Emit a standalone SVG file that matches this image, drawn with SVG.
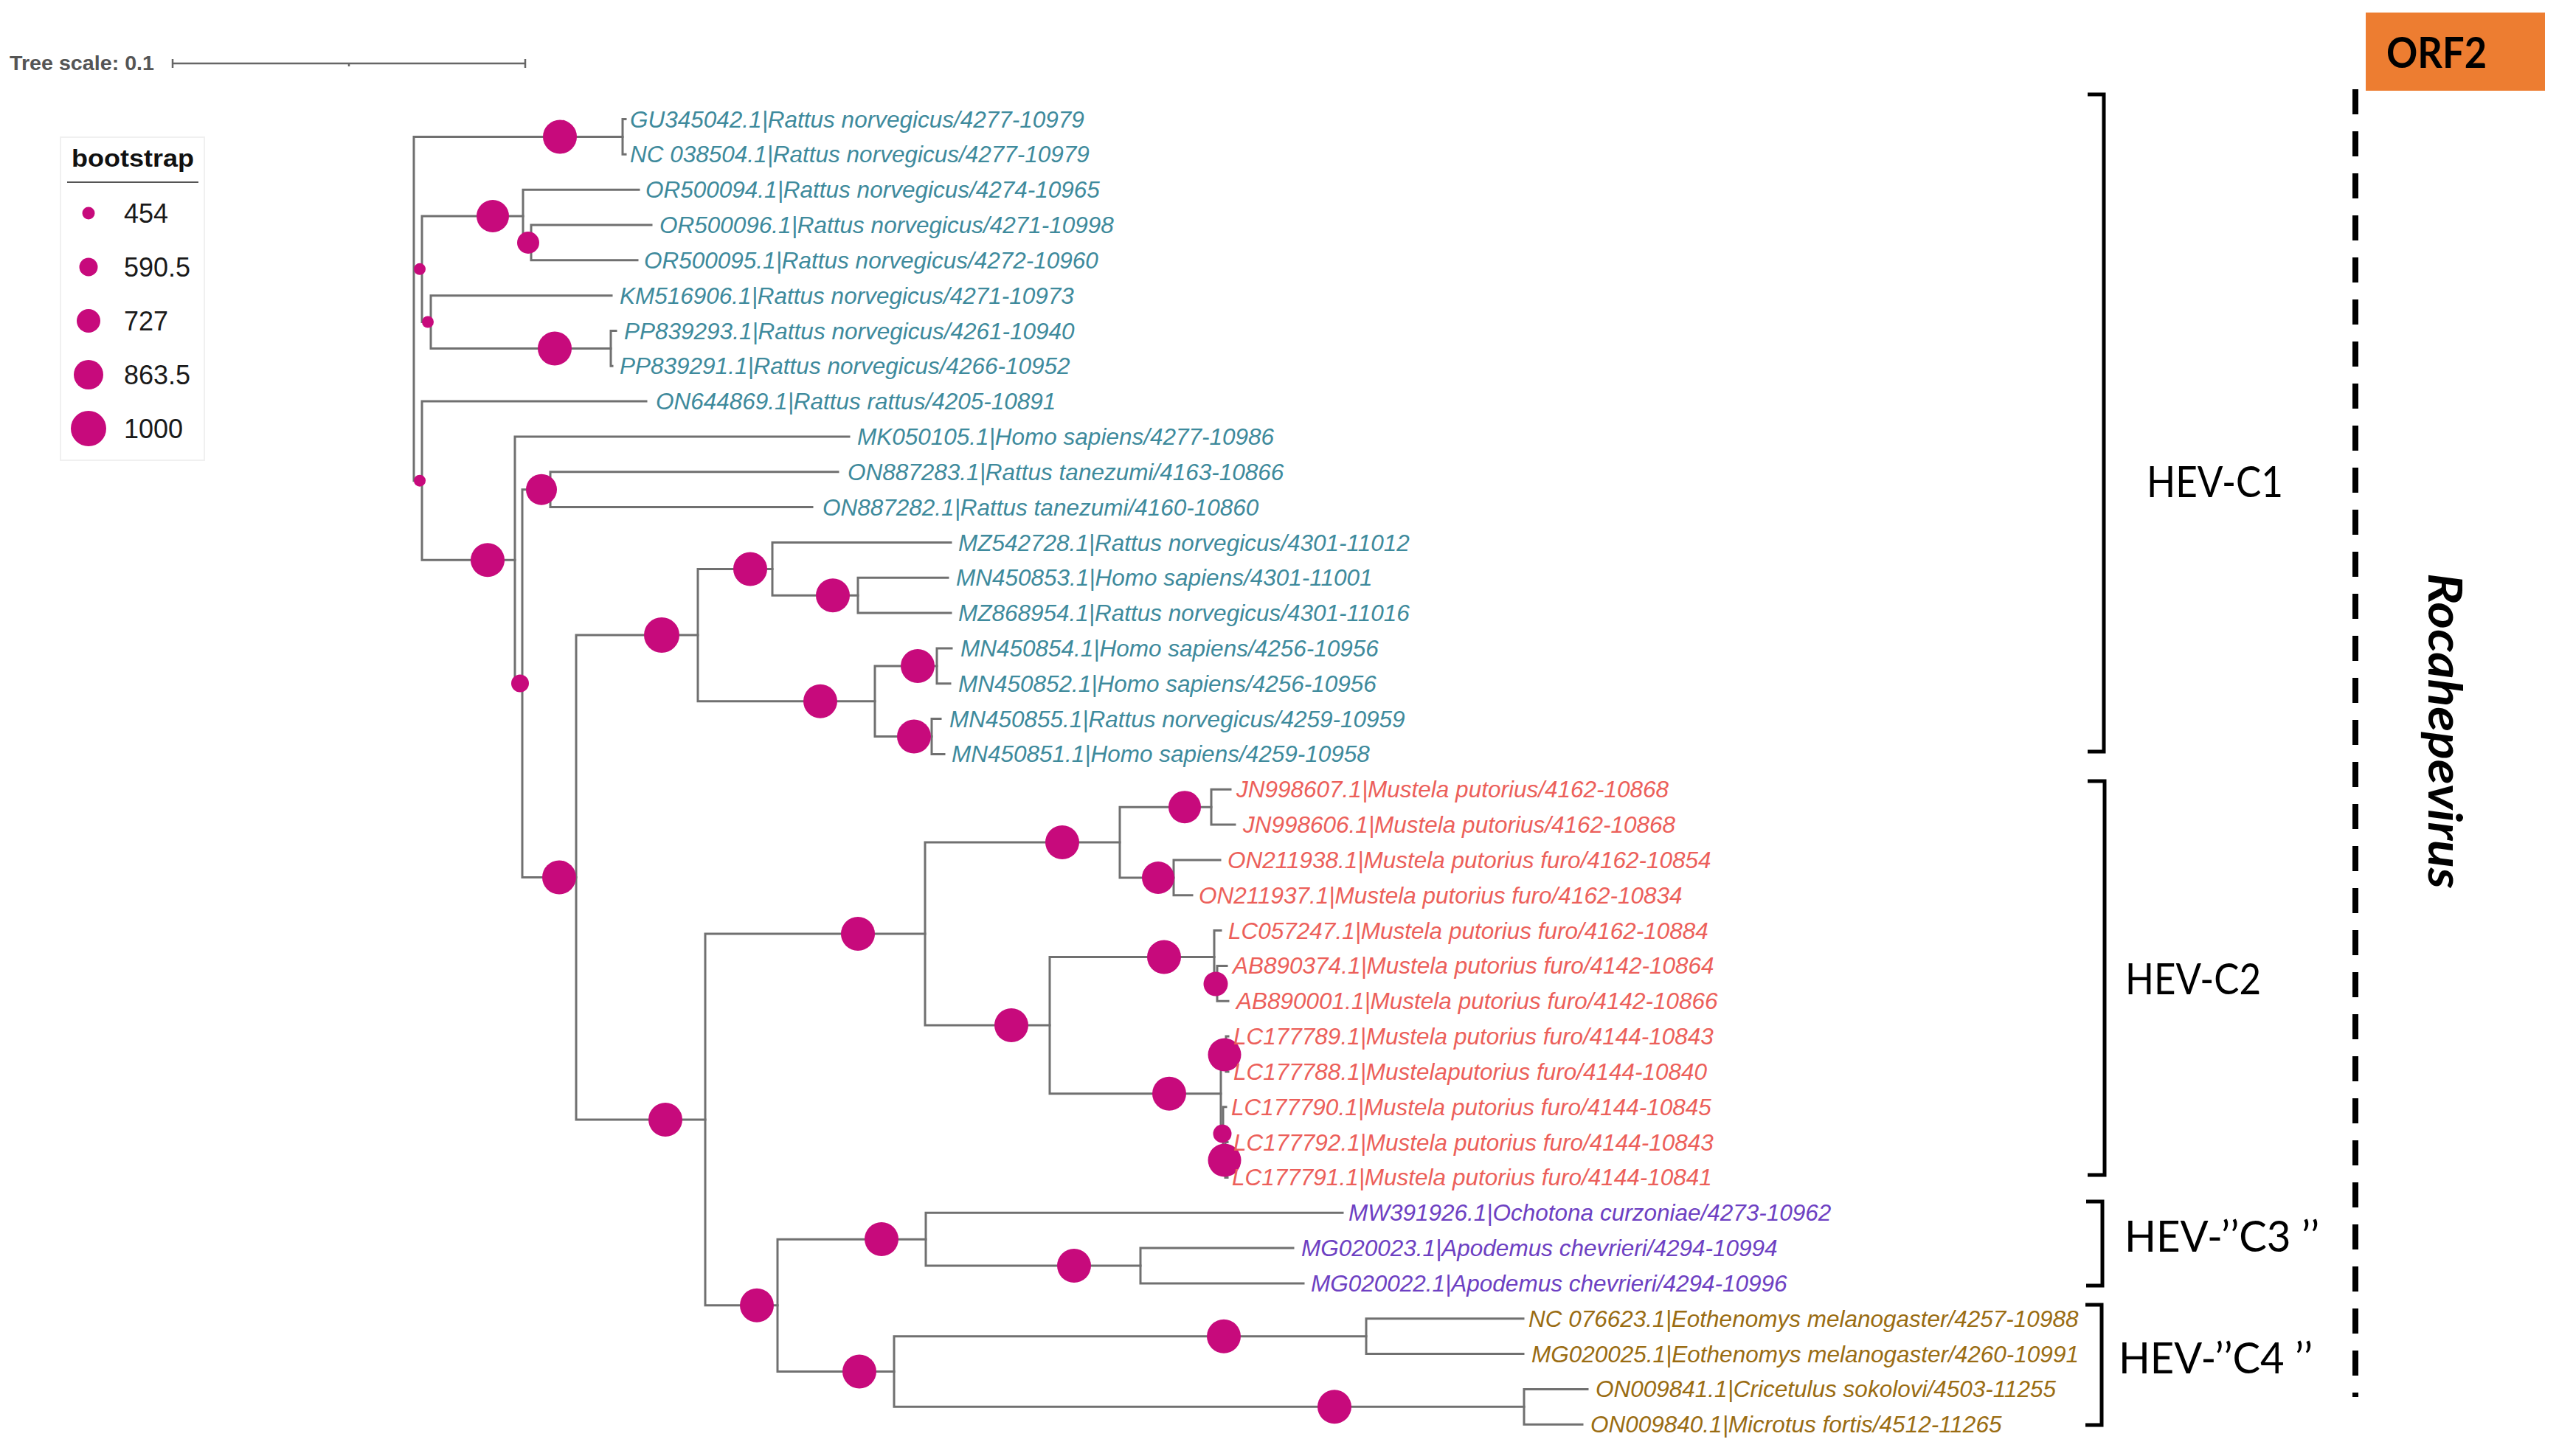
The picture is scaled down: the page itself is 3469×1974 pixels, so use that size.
<svg xmlns="http://www.w3.org/2000/svg" width="3469" height="1974" viewBox="0 0 3469 1974">
<style>
.br{fill:none;stroke:#707070;stroke-width:3;stroke-linecap:square}
.bs{fill:#c70a7c}
.lb{font-family:"Liberation Sans",Arial,sans-serif;font-style:italic;font-size:31.5px}
.c1{fill:#3e8a9c}.c2{fill:#ec5f5a}.c3{fill:#6d40c2}.c4{fill:#9a6c12}
.clade{font-family:Lato,"Open Sans",sans-serif;font-size:58px;fill:#000}
.bk{fill:none;stroke:#000;stroke-width:5}
.lg{font-family:"Liberation Sans",Arial,sans-serif;font-size:36px;fill:#1a1a1a}
</style>
<rect width="3469" height="1974" fill="#fff"/>
<g id="tree-scale">
<text x="13" y="95" font-family="Liberation Sans,Arial,sans-serif" font-weight="bold" font-size="27" fill="#555" textLength="196" lengthAdjust="spacingAndGlyphs">Tree scale: 0.1</text>
<path d="M234,86 H712 M234,80 V92 M712,80 V92 M473,86 V90" fill="none" stroke="#666" stroke-width="2.5"/>
</g>
<g id="legend">
<rect x="82" y="186" width="195" height="438" fill="#fff" stroke="#f0f0f0" stroke-width="2"/>
<text x="97" y="226" font-family="Liberation Sans,Arial,sans-serif" font-weight="bold" font-size="34" fill="#111" textLength="166" lengthAdjust="spacingAndGlyphs">bootstrap</text>
<line x1="91" y1="247" x2="269" y2="247" stroke="#555" stroke-width="2"/>
<circle class="bs" cx="120" cy="289" r="8.5"/><text class="lg" x="168" y="302">454</text>
<circle class="bs" cx="120" cy="362" r="12.5"/><text class="lg" x="168" y="375">590.5</text>
<circle class="bs" cx="120" cy="435" r="16"/><text class="lg" x="168" y="448">727</text>
<circle class="bs" cx="120" cy="508" r="20"/><text class="lg" x="168" y="521">863.5</text>
<circle class="bs" cx="120" cy="581" r="24"/><text class="lg" x="168" y="594">1000</text>
</g>
<g id="branches" class="br">
<path d="M561,185.4 V651.7 M561,185.4 H844 M561,364.8 H572 M561,651.7 H572"/>
<path d="M844,161.5 V209.3 M844,161.5 H848 M844,209.3 H848"/>
<path d="M572,293 V436.5 M572,293 H709 M572,436.5 H584"/>
<path d="M709,257.2 V328.9 M709,257.2 H866 M709,328.9 H720"/>
<path d="M720,305 V352.8 M720,305 H883 M720,352.8 H864"/>
<path d="M584,400.7 V472.4 M584,400.7 H829 M584,472.4 H828"/>
<path d="M828,448.5 V496.3 M828,448.5 H835 M828,496.3 H830"/>
<path d="M572,544.1 V759.3 M572,544.1 H876 M572,759.3 H698"/>
<path d="M698,592 V926.6 M698,592 H1151 M698,926.6 H708"/>
<path d="M708,663.7 V1189.5 M708,663.7 H746 M708,1189.5 H781"/>
<path d="M746,639.8 V687.6 M746,639.8 H1136 M746,687.6 H1101"/>
<path d="M781,861 V1517.9 M781,861 H946 M781,1517.9 H956"/>
<path d="M946,771.4 V950.7 M946,771.4 H1047 M946,950.7 H1186"/>
<path d="M1047,735.5 V807.2 M1047,735.5 H1289 M1047,807.2 H1163"/>
<path d="M1163,783.3 V831.1 M1163,783.3 H1285 M1163,831.1 H1289"/>
<path d="M1186,902.9 V998.5 M1186,902.9 H1270 M1186,998.5 H1263"/>
<path d="M1270,879 V926.8 M1270,879 H1290 M1270,926.8 H1288"/>
<path d="M1263,974.6 V1022.4 M1263,974.6 H1275 M1263,1022.4 H1280"/>
<path d="M956,1266 V1769.8 M956,1266 H1254 M956,1769.8 H1054"/>
<path d="M1254,1142 V1390.1 M1254,1142 H1518 M1254,1390.1 H1423"/>
<path d="M1518,1094.2 V1189.9 M1518,1094.2 H1642 M1518,1189.9 H1591"/>
<path d="M1642,1070.3 V1118.1 M1642,1070.3 H1668 M1642,1118.1 H1674"/>
<path d="M1591,1165.9 V1213.8 M1591,1165.9 H1654 M1591,1213.8 H1616"/>
<path d="M1423,1297.5 V1482.8 M1423,1297.5 H1646 M1423,1482.8 H1655"/>
<path d="M1646,1261.6 V1333.4 M1646,1261.6 H1655 M1646,1333.4 H1650"/>
<path d="M1650,1309.4 V1357.3 M1650,1309.4 H1663 M1650,1357.3 H1665"/>
<path d="M1655,1429 V1536.6 M1655,1429 H1662 M1655,1536.6 H1658"/>
<path d="M1662,1405.1 V1452.9 M1662,1405.1 H1665 M1662,1452.9 H1665"/>
<path d="M1658,1500.8 V1572.5 M1658,1500.8 H1662 M1658,1572.5 H1661"/>
<path d="M1661,1548.6 V1596.4 M1661,1548.6 H1664 M1661,1596.4 H1664"/>
<path d="M1054,1680.2 V1859.5 M1054,1680.2 H1255 M1054,1859.5 H1212"/>
<path d="M1255,1644.3 V1716 M1255,1644.3 H1820 M1255,1716 H1546"/>
<path d="M1546,1692.1 V1739.9 M1546,1692.1 H1753 M1546,1739.9 H1767"/>
<path d="M1212,1811.7 V1907.3 M1212,1811.7 H1852 M1212,1907.3 H2066"/>
<path d="M1852,1787.8 V1835.6 M1852,1787.8 H2065 M1852,1835.6 H2065"/>
<path d="M2066,1883.4 V1931.2 M2066,1883.4 H2152 M2066,1931.2 H2145"/>
</g>
<g id="bootstrap-nodes" class="bs">
<circle id="n1" cx="759" cy="185.4" r="23"/>
<circle id="nA" cx="569" cy="364.8" r="8"/>
<circle id="n2" cx="668" cy="293" r="22"/>
<circle id="n3" cx="716" cy="329" r="15"/>
<circle id="nB" cx="580" cy="436.5" r="8"/>
<circle id="n4" cx="752" cy="472.4" r="23"/>
<circle id="nF" cx="569" cy="651.7" r="8"/>
<circle id="nG" cx="661" cy="759.3" r="23"/>
<circle id="nH" cx="705" cy="926.6" r="12"/>
<circle id="n5" cx="734" cy="663.7" r="21"/>
<circle id="nJ" cx="758" cy="1189.5" r="23"/>
<circle id="nK" cx="897" cy="861" r="24"/>
<circle id="nL" cx="1017" cy="771.4" r="23"/>
<circle id="nM" cx="1129" cy="807.2" r="23"/>
<circle id="nN" cx="1112" cy="950.7" r="23"/>
<circle id="nO" cx="1244" cy="902.9" r="23"/>
<circle id="nP" cx="1239" cy="998.5" r="23"/>
<circle id="nQ" cx="902" cy="1517.9" r="23"/>
<circle id="nR" cx="1163" cy="1266" r="23"/>
<circle id="nS" cx="1440" cy="1142" r="23"/>
<circle id="nU" cx="1606" cy="1094.2" r="22"/>
<circle id="nV" cx="1570" cy="1190" r="22"/>
<circle id="nT" cx="1371" cy="1390" r="23"/>
<circle id="nW" cx="1578" cy="1297.5" r="23"/>
<circle id="nW2" cx="1648" cy="1334" r="16.5"/>
<circle id="nX" cx="1585" cy="1482.8" r="23"/>
<circle id="nY" cx="1660" cy="1430" r="22.5"/>
<circle id="nZ" cx="1657" cy="1537" r="12.5"/>
<circle id="nZZ" cx="1660" cy="1573" r="22.5"/>
<circle id="nAA" cx="1026" cy="1769.8" r="23"/>
<circle id="nC3" cx="1195" cy="1680" r="23"/>
<circle id="nMG" cx="1456" cy="1716" r="23"/>
<circle id="nC4" cx="1165" cy="1859.5" r="23"/>
<circle id="nBB" cx="1659" cy="1811.7" r="23"/>
<circle id="nCC" cx="1809" cy="1907.3" r="23"/>
</g>
<g id="leaf-labels" class="lb">
<g id="leaf01"><text class="c1" x="854" y="172.5">GU345042.1|Rattus norvegicus/4277-10979</text></g>
<g id="leaf02"><text class="c1" x="854" y="220.3">NC 038504.1|Rattus norvegicus/4277-10979</text></g>
<g id="leaf03"><text class="c1" x="875" y="268.2">OR500094.1|Rattus norvegicus/4274-10965</text></g>
<g id="leaf04"><text class="c1" x="894" y="316">OR500096.1|Rattus norvegicus/4271-10998</text></g>
<g id="leaf05"><text class="c1" x="873" y="363.8">OR500095.1|Rattus norvegicus/4272-10960</text></g>
<g id="leaf06"><text class="c1" x="840" y="411.7">KM516906.1|Rattus norvegicus/4271-10973</text></g>
<g id="leaf07"><text class="c1" x="846" y="459.5">PP839293.1|Rattus norvegicus/4261-10940</text></g>
<g id="leaf08"><text class="c1" x="840" y="507.3">PP839291.1|Rattus norvegicus/4266-10952</text></g>
<g id="leaf09"><text class="c1" x="889" y="555.1">ON644869.1|Rattus rattus/4205-10891</text></g>
<g id="leaf10"><text class="c1" x="1162" y="603">MK050105.1|Homo sapiens/4277-10986</text></g>
<g id="leaf11"><text class="c1" x="1149" y="650.8">ON887283.1|Rattus tanezumi/4163-10866</text></g>
<g id="leaf12"><text class="c1" x="1115" y="698.6">ON887282.1|Rattus tanezumi/4160-10860</text></g>
<g id="leaf13"><text class="c1" x="1299" y="746.5">MZ542728.1|Rattus norvegicus/4301-11012</text></g>
<g id="leaf14"><text class="c1" x="1296" y="794.3">MN450853.1|Homo sapiens/4301-11001</text></g>
<g id="leaf15"><text class="c1" x="1299" y="842.1">MZ868954.1|Rattus norvegicus/4301-11016</text></g>
<g id="leaf16"><text class="c1" x="1302" y="890">MN450854.1|Homo sapiens/4256-10956</text></g>
<g id="leaf17"><text class="c1" x="1299" y="937.8">MN450852.1|Homo sapiens/4256-10956</text></g>
<g id="leaf18"><text class="c1" x="1287" y="985.6">MN450855.1|Rattus norvegicus/4259-10959</text></g>
<g id="leaf19"><text class="c1" x="1290" y="1033.4">MN450851.1|Homo sapiens/4259-10958</text></g>
<g id="leaf20"><text class="c2" x="1676" y="1081.3">JN998607.1|Mustela putorius/4162-10868</text></g>
<g id="leaf21"><text class="c2" x="1685" y="1129.1">JN998606.1|Mustela putorius/4162-10868</text></g>
<g id="leaf22"><text class="c2" x="1664" y="1176.9">ON211938.1|Mustela putorius furo/4162-10854</text></g>
<g id="leaf23"><text class="c2" x="1625" y="1224.8">ON211937.1|Mustela putorius furo/4162-10834</text></g>
<g id="leaf24"><text class="c2" x="1665" y="1272.6">LC057247.1|Mustela putorius furo/4162-10884</text></g>
<g id="leaf25"><text class="c2" x="1671" y="1320.4">AB890374.1|Mustela putorius furo/4142-10864</text></g>
<g id="leaf26"><text class="c2" x="1676" y="1368.3">AB890001.1|Mustela putorius furo/4142-10866</text></g>
<g id="leaf27"><text class="c2" x="1672" y="1416.1">LC177789.1|Mustela putorius furo/4144-10843</text></g>
<g id="leaf28"><text class="c2" x="1672" y="1463.9">LC177788.1|Mustelaputorius furo/4144-10840</text></g>
<g id="leaf29"><text class="c2" x="1669" y="1511.8">LC177790.1|Mustela putorius furo/4144-10845</text></g>
<g id="leaf30"><text class="c2" x="1672" y="1559.6">LC177792.1|Mustela putorius furo/4144-10843</text></g>
<g id="leaf31"><text class="c2" x="1670" y="1607.4">LC177791.1|Mustela putorius furo/4144-10841</text></g>
<g id="leaf32"><text class="c3" x="1828" y="1655.3">MW391926.1|Ochotona curzoniae/4273-10962</text></g>
<g id="leaf33"><text class="c3" x="1764" y="1703.1">MG020023.1|Apodemus chevrieri/4294-10994</text></g>
<g id="leaf34"><text class="c3" x="1777" y="1750.9">MG020022.1|Apodemus chevrieri/4294-10996</text></g>
<g id="leaf35"><text class="c4" x="2072" y="1798.8">NC 076623.1|Eothenomys melanogaster/4257-10988</text></g>
<g id="leaf36"><text class="c4" x="2076" y="1846.6">MG020025.1|Eothenomys melanogaster/4260-10991</text></g>
<g id="leaf37"><text class="c4" x="2163" y="1894.4">ON009841.1|Cricetulus sokolovi/4503-11255</text></g>
<g id="leaf38"><text class="c4" x="2156" y="1942.2">ON009840.1|Microtus fortis/4512-11265</text></g>
</g>
<g id="clade-brackets">
<g id="clade-C1"><path class="bk" d="M2830,128 H2852 V1019 H2830"/><text class="clade" x="2910" y="674" textLength="185" lengthAdjust="spacingAndGlyphs">HEV-C1</text></g>
<g id="clade-C2"><path class="bk" d="M2830,1059 H2853 V1593 H2830"/><text class="clade" x="2881" y="1348" textLength="184" lengthAdjust="spacingAndGlyphs">HEV-C2</text></g>
<g id="clade-C3"><path class="bk" d="M2828,1629 H2850 V1743 H2828"/><text class="clade" x="2880" y="1697" textLength="264" lengthAdjust="spacingAndGlyphs">HEV-’’C3 ’’</text></g>
<g id="clade-C4"><path class="bk" d="M2827,1769 H2849 V1932 H2827"/><text class="clade" x="2872" y="1862" textLength="263" lengthAdjust="spacingAndGlyphs">HEV-’’C4 ’’</text></g>
</g>
<g id="genus">
<line x1="3193" y1="121" x2="3193" y2="1894" stroke="#000" stroke-width="8" stroke-dasharray="34 23"/>
<text transform="translate(3292,777) rotate(90)" font-family="Lato,'Open Sans',sans-serif" font-weight="bold" font-style="italic" font-size="64" fill="#000" textLength="428" lengthAdjust="spacingAndGlyphs">Rocahepevirus</text>
</g>
<g id="orf2">
<rect x="3207" y="17" width="243" height="106" fill="#ed7d31"/>
<text x="3235" y="91.5" font-family="Lato,'Open Sans',sans-serif" font-weight="bold" font-size="57" fill="#000" textLength="136" lengthAdjust="spacingAndGlyphs">ORF2</text>
</g>
</svg>
